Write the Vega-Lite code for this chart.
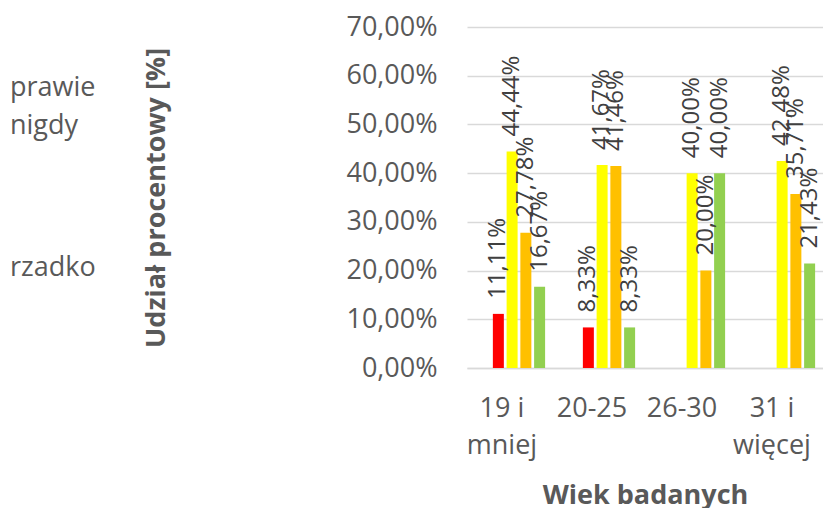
{
  "$schema": "https://vega.github.io/schema/vega-lite/v6.json",
  "padding": {"left": 0, "top": 13, "right": 0, "bottom": 0},
  "background": "white",
  "config": {
    "font": "Open Sans",
    "view": {"stroke": null},
    "locale": {"number": {"decimal": ",", "thousands": " ", "grouping": [3], "currency": ["", " zł"]}}
  },
  "datasets": {
    "legenda": [
      {"etykieta": "prawie\nnigdy"},
      {"etykieta": "rzadko"}
    ],
    "wyniki": [
      {"wiek": "19 i mniej", "seria": "S1", "udzial": 0.1111},
      {"wiek": "19 i mniej", "seria": "S2", "udzial": 0.4444},
      {"wiek": "19 i mniej", "seria": "S3", "udzial": 0.2778},
      {"wiek": "19 i mniej", "seria": "S4", "udzial": 0.1667},
      {"wiek": "20-25", "seria": "S1", "udzial": 0.0833},
      {"wiek": "20-25", "seria": "S2", "udzial": 0.4167},
      {"wiek": "20-25", "seria": "S3", "udzial": 0.4146},
      {"wiek": "20-25", "seria": "S4", "udzial": 0.0833},
      {"wiek": "26-30", "seria": "S2", "udzial": 0.40},
      {"wiek": "26-30", "seria": "S3", "udzial": 0.20},
      {"wiek": "26-30", "seria": "S4", "udzial": 0.40},
      {"wiek": "31 i więcej", "seria": "S2", "udzial": 0.4248},
      {"wiek": "31 i więcej", "seria": "S3", "udzial": 0.3571},
      {"wiek": "31 i więcej", "seria": "S4", "udzial": 0.2143}
    ]
  },
  "bounds": "flush",
  "spacing": 447,
  "hconcat": [
    {
      "width": 20,
      "height": 341,
      "data": {"name": "legenda"},
      "mark": {"type": "text", "align": "left", "baseline": "middle", "fontSize": 27, "color": "#595959", "lineBreak": "\n", "lineHeight": 38},
      "encoding": {
        "y": {"field": "etykieta", "type": "nominal", "sort": null, "axis": null,
              "scale": {"type": "point", "padding": 0.447, "align": 0.379}},
        "text": {"field": "etykieta"}
      }
    },
    {
      "width": 356,
      "height": 341,
      "data": {"name": "wyniki"},
      "encoding": {
        "x": {
          "field": "wiek", "type": "nominal", "sort": null,
          "scale": {"paddingInner": 0.389, "paddingOuter": 0.1722, "align": 0.79},
          "axis": {
            "labelAngle": 0, "labelFontSize": 27, "labelColor": "#595959",
            "labelOffset": -17, "labelPadding": 27, "labelBaseline": "top", "labelLineHeight": 37,
            "labelExpr": "indexof(datum.value, ' i ') > 0 ? [slice(datum.value, 0, indexof(datum.value, ' i ') + 2), slice(datum.value, indexof(datum.value, ' i ') + 3)] : datum.value",
            "ticks": false, "domainColor": "#d9d9d9", "domainWidth": 1.5,
            "title": "Wiek badanych", "titleFontSize": 27, "titleFontWeight": "bold",
            "titleColor": "#595959", "titlePadding": 24
          }
        },
        "xOffset": {
          "field": "seria", "type": "nominal",
          "scale": {"domain": ["S1", "S2", "S3", "S4"], "paddingInner": 0.2, "paddingOuter": 0.1}
        },
        "y": {
          "field": "udzial", "type": "quantitative",
          "scale": {"domain": [0, 0.7], "nice": false},
          "axis": {
            "values": [0, 0.1, 0.2, 0.3, 0.4, 0.5, 0.6, 0.7],
            "format": ".2%", "labelFontSize": 27, "labelColor": "#595959",
            "labelPadding": 30, "ticks": false, "domain": false,
            "gridColor": "#d9d9d9", "gridWidth": 1.5,
            "title": "Udział procentowy [%]", "titleFontSize": 27, "titleFontWeight": "bold",
            "titleColor": "#595959", "titlePadding": 175
          }
        }
      },
      "layer": [
        {
          "mark": {"type": "bar"},
          "encoding": {
            "color": {
              "field": "seria", "type": "nominal", "legend": null,
              "scale": {"domain": ["S1", "S2", "S3", "S4"], "range": ["#ff0000", "#ffff00", "#ffc000", "#92d050"]}
            }
          }
        },
        {
          "mark": {"type": "text", "angle": 270, "align": "left", "baseline": "middle", "dx": 15, "fontSize": 24, "color": "#404040"},
          "encoding": {
            "text": {"field": "udzial", "type": "quantitative", "format": ".2%"}
          }
        }
      ]
    }
  ]
}
